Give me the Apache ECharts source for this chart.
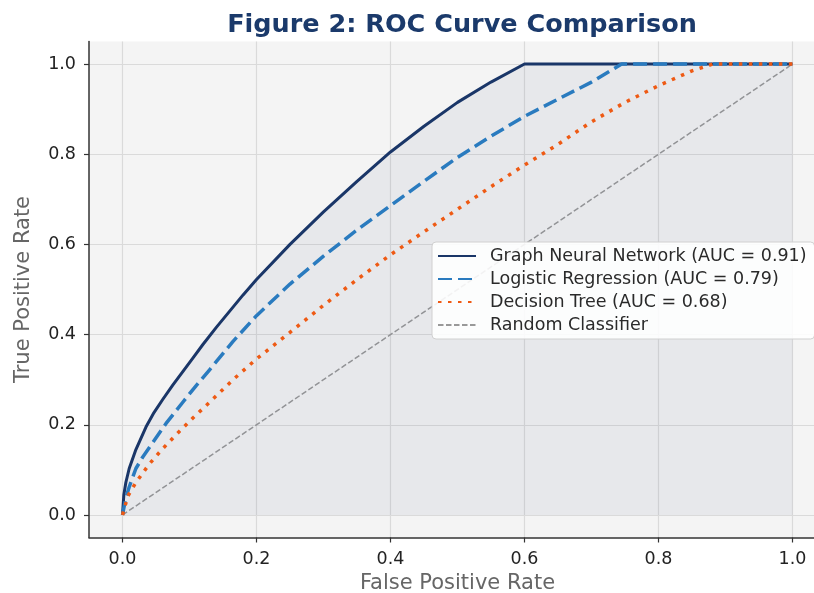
<!DOCTYPE html>
<html style="height: 100%">
<head>
<meta charset="utf-8">
<script src="https://cdn.jsdelivr.net/npm/echarts@6/dist/echarts.min.js"></script>
</head>
<body style="height: 100%; margin: 0; background: #fff">
<div id="container" style="width: 814px; height: 593px"></div>
<script type="text/javascript">
// values
var tickValues = [0, 0.2, 0.4, 0.6, 0.8, 1.0];

var gnnName = 'Graph Neural Network (AUC = 0.91)';
var gnnFpr = [0, 0.002, 0.005, 0.01, 0.02, 0.035, 0.047, 0.06, 0.075, 0.09, 0.105, 0.12, 0.14, 0.16, 0.18, 0.2, 0.25, 0.3, 0.35, 0.4, 0.45, 0.5, 0.55, 0.6, 1.0];
var gnnTpr = [0, 0.045, 0.072, 0.103, 0.145, 0.195, 0.227, 0.256, 0.288, 0.318, 0.348, 0.378, 0.416, 0.452, 0.488, 0.522, 0.6, 0.672, 0.74, 0.805, 0.862, 0.915, 0.96, 1.0, 1.0];

var lrName = 'Logistic Regression (AUC = 0.79)';
var lrFpr = [0, 0.005, 0.01, 0.02, 0.03, 0.045, 0.065, 0.09, 0.11, 0.13, 0.165, 0.2, 0.25, 0.3, 0.35, 0.4, 0.45, 0.5, 0.55, 0.6, 0.65, 0.7, 0.745, 1.0];
var lrTpr = [0, 0.038, 0.062, 0.103, 0.128, 0.16, 0.203, 0.25, 0.287, 0.322, 0.385, 0.442, 0.512, 0.574, 0.632, 0.686, 0.74, 0.793, 0.84, 0.884, 0.922, 0.96, 1.0, 1.0];

var dtName = 'Decision Tree (AUC = 0.68)';
var dtFpr = [0, 0.008, 0.02, 0.04, 0.06, 0.08, 0.105, 0.13, 0.165, 0.2, 0.25, 0.3, 0.35, 0.4, 0.45, 0.5, 0.55, 0.6, 0.65, 0.7, 0.75, 0.8, 0.85, 0.881, 1.0];
var dtTpr = [0, 0.042, 0.072, 0.113, 0.147, 0.178, 0.215, 0.25, 0.3, 0.346, 0.405, 0.465, 0.522, 0.577, 0.628, 0.678, 0.728, 0.776, 0.822, 0.872, 0.915, 0.952, 0.985, 1.0, 1.0];

var randName = 'Random Classifier';
var randFpr = [0, 1];
var randTpr = [0, 1];

function pairs(xs, ys) {
    return xs.map(function (x, i) { return [x, ys[i]]; });
}

var font = 'DejaVu Sans';
var myChart = echarts.init(document.getElementById('container'));

var axisCommon = {
    type: 'value',
    min: -0.05,
    max: 1.05,
    nameLocation: 'middle',
    nameTextStyle: { fontFamily: font, fontSize: 21, color: '#666' },
    axisLine: { show: true, onZero: false, lineStyle: { color: '#333', width: 1.5 } },
    axisTick: { show: true, length: 5, customValues: tickValues, lineStyle: { color: '#333', width: 1.2 } },
    axisLabel: {
        customValues: tickValues,
        margin: 13,
        fontFamily: font,
        fontSize: 17.5,
        color: '#222',
        formatter: function (v) { return v.toFixed(1); }
    },
    splitLine: { show: true, lineStyle: { color: '#dadada', width: 1.2 } }
};

myChart.setOption({
    animation: false,
    backgroundColor: '#fff',
    title: {
        text: 'Figure 2: ROC Curve Comparison',
        left: 457,
        top: 7,
        textAlign: 'center',
        textStyle: { fontFamily: font, fontSize: 25.5, fontWeight: 'bold', color: '#1b3a6b' }
    },
    grid: {
        left: 89,
        top: 41.5,
        width: 737,
        height: 496,
        outerBoundsMode: 'none',
        containLabel: false,
        show: true,
        backgroundColor: '#f4f4f4',
        borderWidth: 0
    },
    legend: {
        orient: 'vertical',
        left: 432,
        top: 242,
        itemWidth: 38,
        itemHeight: 14,
        itemGap: 5,
        padding: [5, 8, 5, 5],
        backgroundColor: 'rgba(255,255,255,0.88)',
        borderColor: '#d0d0d0',
        borderWidth: 1,
        borderRadius: 4,
        selectedMode: false,
        itemStyle: { color: 'rgba(0,0,0,0)', borderWidth: 0, opacity: 0 },
        textStyle: { fontFamily: font, fontSize: 17.5, color: '#2a2a2a', padding: [0, 0, 0, 9] },
        data: [gnnName, lrName, dtName, randName]
    },
    xAxis: Object.assign({}, axisCommon, { name: 'False Positive Rate', nameGap: 31 }),
    yAxis: Object.assign({}, axisCommon, { name: 'True Positive Rate', nameGap: 55 }),
    series: [
        {
            name: randName,
            type: 'line',
            symbol: 'none',
            z: 2,
            lineStyle: { color: '#999', width: 1.5, type: [5.5, 2.5] },
            data: pairs(randFpr, randTpr)
        },
        {
            name: gnnName,
            type: 'line',
            symbol: 'none',
            z: 3,
            lineStyle: { color: '#1a3668', width: 3, join: 'round' },
            areaStyle: { color: '#1a3668', opacity: 0.06 },
            data: pairs(gnnFpr, gnnTpr)
        },
        {
            name: lrName,
            type: 'line',
            symbol: 'none',
            z: 4,
            lineStyle: { color: '#2a7bbf', width: 3.5, type: [14, 6], join: 'round' },
            data: pairs(lrFpr, lrTpr)
        },
        {
            name: dtName,
            type: 'line',
            symbol: 'none',
            z: 5,
            lineStyle: { color: '#ee5a14', width: 3.5, type: [3.5, 6.5] },
            data: pairs(dtFpr, dtTpr)
        }
    ]
});
</script>
</body>
</html>
